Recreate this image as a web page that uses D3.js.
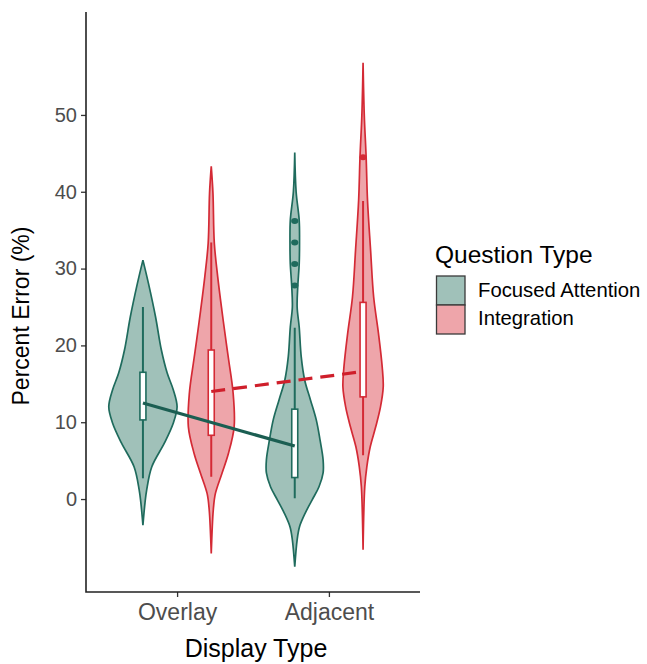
<!DOCTYPE html>
<html>
<head>
<meta charset="utf-8">
<script src="https://cdn.jsdelivr.net/npm/d3@7"></script>
<style>
  body { margin: 0; background: #fff; }
  svg { display: block; font-family: "Liberation Sans", Arial, sans-serif; }
</style>
</head>
<body>
<svg id="canvas" width="647" height="664"></svg>
<script>
// Categories
const displayTypes = ["Overlay", "Adjacent"];
const questionTypes = ["Focused Attention", "Integration"];
const yTicks = [0, 10, 20, 30, 40, 50];

// Violin outlines: [percent error, relative density]
const focusedOverlayDensity = [[31.1, 0], [28.1, 0.16], [23.7, 0.37], [19.4, 0.54], [16.4, 0.71], [14.2, 0.89], [12.0, 1.0], [9.9, 0.89], [7.3, 0.63], [4.2, 0.26], [1.2, 0.11], [-0.5, 0.06], [-3.4, 0]];
const focusedAdjacentDensity = [[45.1, 0], [40, 0.04], [36.3, 0.13], [33.4, 0.14], [30.6, 0.13], [27.8, 0.09], [25, 0.07], [22.4, 0.13], [18.5, 0.19], [15.5, 0.29], [12.9, 0.46], [10.3, 0.63], [7.7, 0.74], [5.1, 0.83], [3.4, 0.83], [1.6, 0.71], [-0.1, 0.51], [-1.8, 0.31], [-3.6, 0.14], [-5.3, 0.07], [-8.8, 0]];
const integrationOverlayDensity = [[43.3, 0], [39.8, 0.05], [33.3, 0.09], [28.9, 0.19], [24.6, 0.31], [20.3, 0.44], [18.1, 0.51], [13.8, 0.64], [9.4, 0.67], [5.9, 0.5], [3.3, 0.31], [0.7, 0.12], [-1.4, 0.06], [-7.1, 0]];
const integrationAdjacentDensity = [[56.8, 0], [50, 0.035], [44.5, 0.09], [38.9, 0.13], [32.4, 0.22], [26.3, 0.31], [21.6, 0.45], [17.2, 0.56], [14.6, 0.59], [12.0, 0.51], [9.4, 0.37], [6.8, 0.21], [4.2, 0.11], [1.6, 0.05], [-6.6, 0]];

// Box stats per display type: [low whisker, q1, median, q3, high whisker]
const focusedBoxes = [[2.7, 10.3, 12.5, 16.5, 25.0], [0.1, 2.8, 6.9, 11.7, 22.3]];
const integrationBoxes = [[2.9, 8.3, 14.0, 19.4, 33.4], [5.7, 13.3, 16.7, 25.6, 38.8]];
const focusedOutliers = [[], [27.8, 30.6, 33.4, 36.2]];
const integrationOutliers = [[], [44.5]];

// Points joined by the trend lines
const focusedMeans = [12.5, 6.9];
const integrationMeans = [14.0, 16.6];

const strokeColors = { "Focused Attention": "#1f6b5d", "Integration": "#d42a35" };
const fillColors = { "Focused Attention": "#a0c1b9", "Integration": "#eea5aa" };
const lineColors = { "Focused Attention": "#1b5e52", "Integration": "#cf1f2b" };

const svg = d3.select('#canvas');

// Panel edges
const panelLeft = 86, panelRight = 420, panelTop = 12, panelBottom = 592;

const x = d3.scalePoint()
  .domain(displayTypes)
  .range([panelLeft, panelRight])
  .padding(0.6);

const step = x.step();
const xDodge = d3.scaleBand()
  .domain(questionTypes)
  .range([-0.45 * step, 0.45 * step]);

const y = d3.scaleLinear()
  .domain([-12.1, 63.4])
  .range([panelBottom, panelTop]);

const halfWidth = d3.scaleLinear()
  .domain([0, 1])
  .range([0, xDodge.bandwidth() / 2]);

// Build one record per violin
const violins = [];
displayTypes.forEach((dt, i) => {
  violins.push({
    display: dt, question: questionTypes[0],
    density: i === 0 ? focusedOverlayDensity : focusedAdjacentDensity,
    box: focusedBoxes[i], outliers: focusedOutliers[i]
  });
  violins.push({
    display: dt, question: questionTypes[1],
    density: i === 0 ? integrationOverlayDensity : integrationAdjacentDensity,
    box: integrationBoxes[i], outliers: integrationOutliers[i]
  });
});

const cx = d => x(d.display) + xDodge(d.question) + xDodge.bandwidth() / 2;

const area = d3.area()
  .x0(d => -halfWidth(d[1]))
  .x1(d => halfWidth(d[1]))
  .y(d => y(d[0]))
  .curve(d3.curveCatmullRom);

const groups = svg.selectAll('g.violin')
  .data(violins)
  .enter()
  .append('g')
  .attr('class', 'violin')
  .attr('transform', d => `translate(${cx(d)},0)`);

groups.append('path')
  .attr('d', d => area(d.density))
  .attr('fill', d => fillColors[d.question])
  .attr('stroke', d => strokeColors[d.question])
  .attr('stroke-width', 1.7);

// Whiskers
groups.append('line')
  .attr('x1', 0).attr('x2', 0)
  .attr('y1', d => y(d.box[0]))
  .attr('y2', d => y(d.box[4]))
  .attr('stroke', d => strokeColors[d.question])
  .attr('stroke-width', 2);

// Boxes
const boxW = 6;
groups.append('rect')
  .attr('x', -boxW / 2)
  .attr('width', boxW)
  .attr('y', d => y(d.box[3]))
  .attr('height', d => y(d.box[1]) - y(d.box[3]))
  .attr('fill', '#fff')
  .attr('stroke', d => strokeColors[d.question])
  .attr('stroke-width', 1.6);

// Outliers
groups.selectAll('ellipse')
  .data(d => d.outliers.map(v => ({ v: v, question: d.question })))
  .enter()
  .append('ellipse')
  .attr('cx', 0)
  .attr('cy', d => y(d.v))
  .attr('rx', 3.6)
  .attr('ry', 3)
  .attr('fill', d => strokeColors[d.question]);

// Trend lines between display types
const line = d3.line()
  .x(d => d.x)
  .y(d => y(d.v));

const trend = [
  { question: questionTypes[0], values: focusedMeans, dash: null },
  { question: questionTypes[1], values: integrationMeans, dash: '14,8' }
];

trend.forEach(t => {
  const pts = displayTypes.map((dt, i) => ({
    x: x(dt) + xDodge(t.question) + xDodge.bandwidth() / 2,
    v: t.values[i]
  }));
  svg.append('path')
    .attr('d', line(pts))
    .attr('fill', 'none')
    .attr('stroke', lineColors[t.question])
    .attr('stroke-width', 3.2)
    .attr('stroke-dasharray', t.dash);
});

// Axes
const yAxis = svg.append('g')
  .attr('transform', `translate(${panelLeft},0)`)
  .call(d3.axisLeft(y).tickValues(yTicks).tickSize(5).tickPadding(4));

const xAxis = svg.append('g')
  .attr('transform', `translate(0,${panelBottom})`)
  .call(d3.axisBottom(x).tickSize(5).tickPadding(6));

[yAxis, xAxis].forEach(ax => {
  ax.select('.domain').remove();
  ax.selectAll('.tick line').attr('stroke', '#333').attr('stroke-width', 1.3);
  ax.selectAll('.tick text').attr('fill', '#4d4d4d').attr('font-family', null);
});
yAxis.selectAll('.tick text').attr('font-size', 20);
xAxis.selectAll('.tick text').attr('font-size', 23).attr('dy', '0.75em');

// Axis lines (L-shaped panel border)
svg.append('path')
  .attr('d', `M${panelLeft},${panelTop}V${panelBottom}H${panelRight}`)
  .attr('fill', 'none')
  .attr('stroke', '#222')
  .attr('stroke-width', 1.6);

// Axis titles
svg.append('text')
  .attr('transform', `translate(29,316) rotate(-90)`)
  .attr('text-anchor', 'middle')
  .attr('font-size', 23)
  .attr('fill', '#000')
  .text('Percent Error (%)');

svg.append('text')
  .attr('x', 256)
  .attr('y', 657)
  .attr('text-anchor', 'middle')
  .attr('font-size', 25)
  .attr('fill', '#000')
  .text('Display Type');

// Legend
const legend = svg.append('g');
legend.append('text')
  .attr('x', 435)
  .attr('y', 263)
  .attr('font-size', 24.5)
  .attr('fill', '#000')
  .text('Question Type');

questionTypes.forEach((q, i) => {
  legend.append('rect')
    .attr('x', 436.5)
    .attr('y', 276 + i * 29)
    .attr('width', 28.5)
    .attr('height', 29)
    .attr('fill', fillColors[q])
    .attr('stroke', '#3a3a3a')
    .attr('stroke-width', 1.3);
  legend.append('text')
    .attr('x', 478)
    .attr('y', 297 + i * 28)
    .attr('font-size', 20.3)
    .attr('fill', '#000')
    .text(q);
});
</script>
</body>
</html>
